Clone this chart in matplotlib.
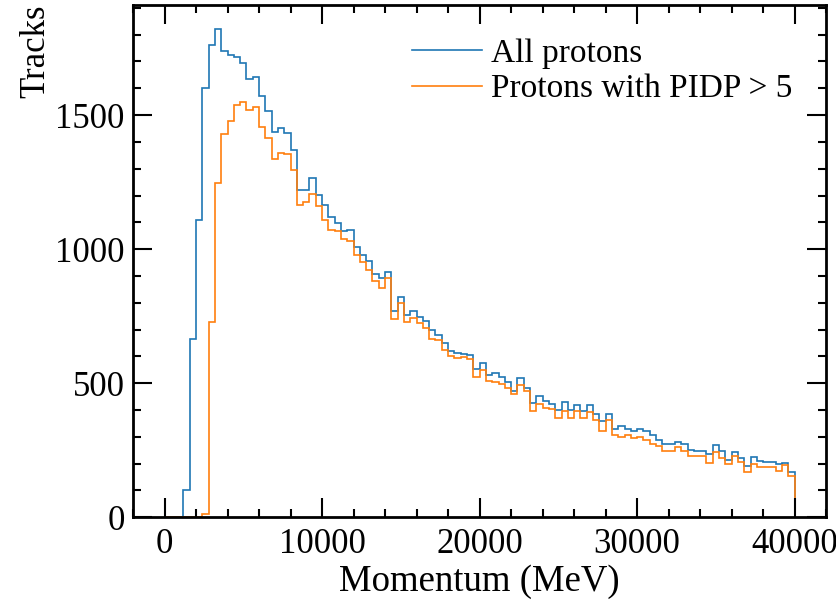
import numpy as np
import matplotlib
matplotlib.use('Agg')
import matplotlib.pyplot as plt
from matplotlib.ticker import AutoMinorLocator

# 100 bins of 400 MeV from 0 to 40000 MeV
bin_edges = np.linspace(0, 40000, 101)

all_protons = [
    0, 0, 0, 100, 664, 1108, 1601, 1760, 1820, 1738,
    1723, 1715, 1696, 1634, 1643, 1571, 1515, 1438, 1452, 1435,
    1369, 1222, 1219, 1265, 1203, 1166, 1120, 1099, 1067, 1070,
    1007, 980, 957, 906, 891, 916, 769, 823, 755, 769,
    747, 733, 697, 679, 650, 622, 612, 609, 606, 552,
    575, 532, 539, 522, 506, 472, 519, 484, 428, 452,
    435, 424, 399, 431, 399, 417, 396, 417, 385, 358,
    384, 331, 340, 328, 320, 328, 323, 306, 290, 273,
    273, 282, 272, 250, 247, 247, 237, 269, 246, 212,
    242, 222, 190, 225, 210, 207, 207, 198, 201, 170,
]

pidp_protons = [
    0, 0, 0, 0, 0, 0, 12, 727, 1248, 1430,
    1477, 1536, 1547, 1519, 1529, 1455, 1413, 1338, 1359, 1356,
    1297, 1165, 1174, 1207, 1162, 1110, 1073, 1067, 1038, 1030,
    977, 952, 923, 881, 856, 893, 738, 800, 730, 745,
    726, 707, 664, 660, 623, 602, 594, 596, 590, 524,
    549, 509, 506, 497, 482, 460, 494, 472, 395, 423,
    408, 404, 371, 398, 371, 398, 369, 393, 364, 323,
    364, 305, 301, 305, 296, 298, 289, 275, 265, 249,
    249, 261, 249, 230, 230, 227, 202, 243, 220, 197,
    227, 206, 168, 200, 187, 187, 187, 171, 195, 154,
]

plt.rcParams['font.family'] = ['Liberation Serif', 'DejaVu Serif']

fig = plt.figure(figsize=(8.37, 6.10), dpi=100)
ax = fig.add_axes([0.159, 0.152, 0.828, 0.840])

ax.stairs(all_protons, bin_edges, color='#1f77b4', linewidth=1.2, label='All protons')
ax.stairs(pidp_protons, bin_edges, color='#ff7f0e', linewidth=1.2, label='Protons with PIDP > 5')

ax.set_xlim(-2000, 42000)
ax.set_ylim(0, 1911)
ax.set_xticks([0, 10000, 20000, 30000, 40000])
ax.set_yticks([0, 500, 1000, 1500])
ax.xaxis.set_minor_locator(AutoMinorLocator(5))
ax.yaxis.set_minor_locator(AutoMinorLocator(5))

ax.tick_params(which='both', direction='in', top=True, right=True, labelsize=25)
ax.tick_params(which='major', length=14, width=1.5)
ax.tick_params(which='minor', length=6, width=1.5)
ax.tick_params(axis='x', pad=8)
ax.tick_params(axis='y', pad=6)
for s in ax.spines.values():
    s.set_linewidth(2)

ax.set_xlabel('Momentum (MeV)', fontsize=26.5, labelpad=2)
ax.set_ylabel('Tracks', fontsize=25, loc='top', labelpad=2)

ax.legend(loc='upper right', frameon=False, fontsize=24, handlelength=2.1,
          handletextpad=0.27, labelspacing=0.15, borderaxespad=0.6)

fig.savefig('out.png', dpi=100)
